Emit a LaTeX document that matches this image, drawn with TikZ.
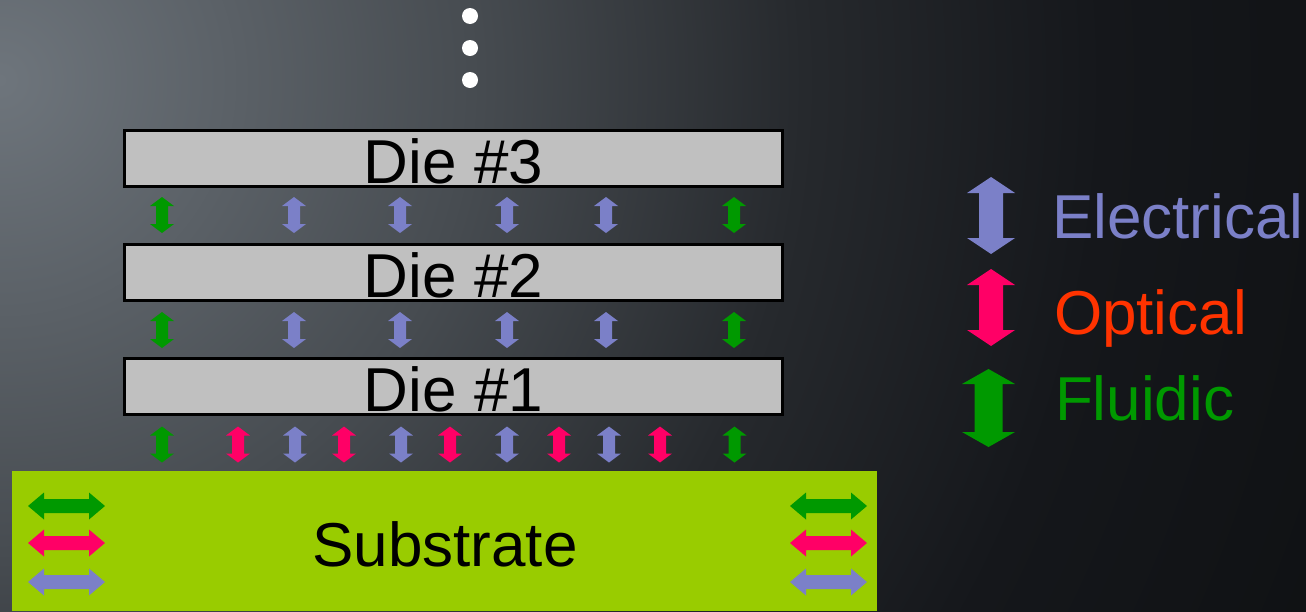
\documentclass[tikz,border=0pt]{standalone}
\usepackage{fontspec}
\setmainfont{Liberation Sans}
\definecolor{elec}{RGB}{123,128,200}
\definecolor{opt}{RGB}{255,0,102}
\definecolor{optt}{RGB}{255,51,0}
\definecolor{flu}{RGB}{0,153,0}
\definecolor{subs}{RGB}{153,204,0}
\definecolor{diegray}{RGB}{192,192,192}
\definecolor{bgA}{RGB}{110,117,124}
\definecolor{bgB}{RGB}{71,76,81}
\definecolor{bgC}{RGB}{38,41,45}
\definecolor{bgD}{RGB}{21,23,27}
\definecolor{bgE}{RGB}{15,17,19}
\pgfdeclareradialshading{bgshade}{\pgfpoint{0bp}{0bp}}{color(0bp)=(bgA); color(470bp)=(bgB); color(800bp)=(bgC); color(1100bp)=(bgD); color(1450bp)=(bgE)}
% vertical double arrow: color, cx, cy, half length, head half width, shaft half width, head length
\newcommand{\VArr}[7]{%
  \fill[#1] (#2,#3-#4) -- (#2+#5,#3-#4+#7) -- (#2+#6,#3-#4+#7) -- (#2+#6,#3+#4-#7) -- (#2+#5,#3+#4-#7) -- (#2,#3+#4)
     -- (#2-#5,#3+#4-#7) -- (#2-#6,#3+#4-#7) -- (#2-#6,#3-#4+#7) -- (#2-#5,#3-#4+#7) -- cycle;}
% horizontal double arrow
\newcommand{\HArr}[7]{%
  \fill[#1] (#2-#4,#3) -- (#2-#4+#7,#3-#5) -- (#2-#4+#7,#3-#6) -- (#2+#4-#7,#3-#6) -- (#2+#4-#7,#3-#5) -- (#2+#4,#3)
     -- (#2+#4-#7,#3+#5) -- (#2+#4-#7,#3+#6) -- (#2-#4+#7,#3+#6) -- (#2-#4+#7,#3+#5) -- cycle;}
\newcommand{\SmallV}[3]{\VArr{#1}{#2}{#3}{18}{12}{6}{9}}
\tikzset{
  die/.style={draw=black, line width=3pt, fill=diegray, minimum width=658pt, minimum height=56pt, inner sep=0pt, outer sep=0pt},
  big/.style={font=\fontsize{62pt}{70pt}\selectfont, inner sep=0pt, outer sep=0pt},
}
\begin{document}
\begin{tikzpicture}[x=1pt,y=-1pt]
\useasboundingbox (0,0) rectangle (1306,611);
\begin{scope}
\clip (0,0) rectangle (1306,611);
\fill[bgE] (0,0) rectangle (1306,611);
\node[inner sep=0pt, outer sep=0pt] (bg) at (0,80) {\pgfuseshading{bgshade}};
\end{scope}
% dots
\fill[white] (470,16) circle (8pt);
\fill[white] (470,48) circle (8pt);
\fill[white] (470,80) circle (8pt);
% dies
\node[die] (d3) at (453.5,158.5) {};
\node[die] (d2) at (453.5,272.5) {};
\node[die] (d1) at (453.5,386.5) {};
\node[big, anchor=base] (t3) at (453.5,183) {Die \#3};
\node[big, anchor=base] (t2) at (453.5,297) {Die \#2};
\node[big, anchor=base] (t1) at (453.5,411) {Die \#1};
% substrate
\fill[subs] (12,471) rectangle (877,611);
\node[big, anchor=base] (ts) at (445,566) {Substrate};
% rows between dies
\foreach \y in {215,330}{
  \SmallV{flu}{162}{\y}
  \SmallV{elec}{294}{\y}
  \SmallV{elec}{400}{\y}
  \SmallV{elec}{507}{\y}
  \SmallV{elec}{606}{\y}
  \SmallV{flu}{734}{\y}
}
% bottom row
\SmallV{flu}{162}{444.5}
\SmallV{opt}{238}{444.5}
\SmallV{elec}{295}{444.5}
\SmallV{opt}{344}{444.5}
\SmallV{elec}{401}{444.5}
\SmallV{opt}{450}{444.5}
\SmallV{elec}{507}{444.5}
\SmallV{opt}{559}{444.5}
\SmallV{elec}{609}{444.5}
\SmallV{opt}{660}{444.5}
\SmallV{flu}{734.5}{444.5}
% substrate horizontal arrows
\foreach \cx in {66.5,828.5}{
  \HArr{flu}{\cx}{506}{38.5}{13.5}{7}{16}
  \HArr{opt}{\cx}{543}{38.5}{13.5}{7}{16}
  \HArr{elec}{\cx}{582}{38.5}{13.5}{7}{16}
}
% legend
\VArr{elec}{991}{215.5}{38.5}{24}{12}{16}
\VArr{opt}{991}{307.5}{38.5}{24}{12}{16}
\VArr{flu}{988.5}{408}{39}{26.5}{14}{15}
\node[big, anchor=base west, text=elec] (le) at (1052,238) {Electrical};
\node[big, anchor=base west, text=optt] (lo) at (1054,334) {Optical};
\node[big, anchor=base west, text=flu] (lf) at (1055,420) {Fluidic};
\end{tikzpicture}
\end{document}
